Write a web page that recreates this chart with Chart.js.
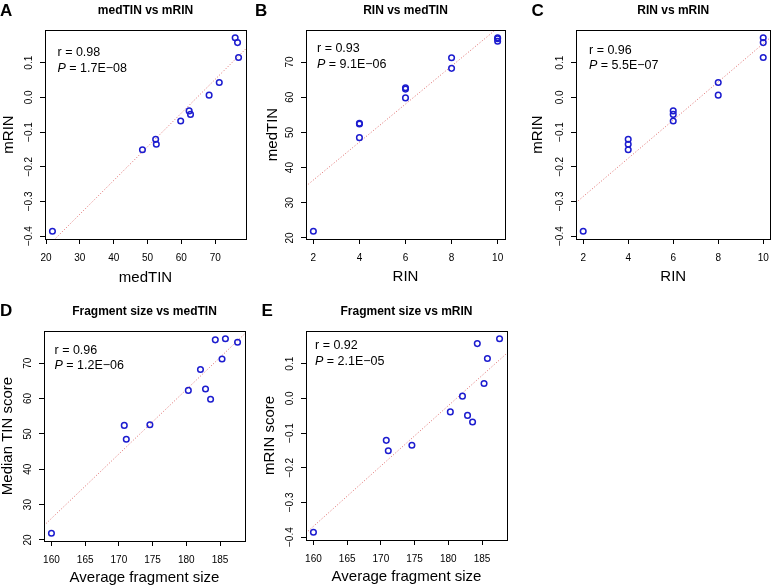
<!DOCTYPE html>
<html>
<head>
<meta charset="utf-8">
<script src="https://cdn.jsdelivr.net/npm/chart.js@4.4.1/dist/chart.umd.min.js"></script>
<style>
  body { margin: 0; background: #fff; width: 777px; height: 587px; position: relative; overflow: hidden; }
  canvas { position: absolute; }
</style>
</head>
<body>
<canvas id="pA"></canvas>
<canvas id="pB"></canvas>
<canvas id="pC"></canvas>
<canvas id="pD"></canvas>
<canvas id="pE"></canvas>
<script>
// per-sample values (12 samples)
const rin     = [2, 4, 4, 4, 6, 6, 6, 8, 8, 10, 10, 10];
const medTIN  = [21.9, 52.4, 52.6, 48.5, 62.3, 62.7, 59.8, 68.2, 71.2, 76.6, 76.9, 75.9];
const mRIN    = [-0.386, -0.121, -0.135, -0.151, -0.039, -0.049, -0.068, 0.0065, 0.043, 0.158, 0.115, 0.172];
const fragLen = [160.0, 170.8, 174.6, 171.1, 180.3, 182.85, 183.6, 182.1, 185.3, 184.3, 185.8, 187.6];

// tick labels
const tinTicks  = [20, 30, 40, 50, 60, 70];
const mrinTicks = [-0.4, -0.3, -0.2, -0.1, 0.0, 0.1];
const rinTicks  = [2, 4, 6, 8, 10];
const fragTicks = [160, 165, 170, 175, 180, 185];

// correlation labels
const rText = ["0.98", "0.93", "0.96", "0.96", "0.92"];
const pText = ["1.7E\u221208", "9.1E\u221206", "5.5E\u221207", "1.2E\u221206", "2.1E\u221205"];

Chart.defaults.font.family = '"Liberation Sans", Arial, Helvetica, sans-serif';
Chart.defaults.color = "#000";
const FAM = Chart.defaults.font.family;

// R's default axis range: data range stretched by 4% each side
function rRange(v) {
  const lo = Math.min(...v), hi = Math.max(...v), d = (hi - lo) * 0.04;
  return [lo - d, hi + d];
}
function lsq(xs, ys) {
  const n = xs.length;
  const mx = xs.reduce((a, b) => a + b) / n, my = ys.reduce((a, b) => a + b) / n;
  let sxy = 0, sxx = 0;
  xs.forEach((x, i) => { sxy += (x - mx) * (ys[i] - my); sxx += (x - mx) * (x - mx); });
  const b = sxy / sxx;
  return x => my + b * (x - mx);
}
const fmtNum = v => String(v);
const fmtMrin = v => v.toFixed(1).replace("-", "\u2212");

const meas = document.createElement("canvas").getContext("2d");
meas.font = "10px " + FAM;

const panels = [
  { id: "pA", letter: "A", title: "medTIN vs mRIN", xs: medTIN, ys: mRIN, xt: tinTicks, yt: mrinTicks,
    xf: fmtNum, yf: fmtMrin, xLab: "medTIN", yLab: "mRIN", k: 0,
    canvas: [0, 0, 254, 290], box: [45, 30, 246, 239], yTitleX: 8.5, xTitleY: 277.7, letterAt: [0, 15.5], note: [12.5, 23] },
  { id: "pB", letter: "B", title: "RIN vs medTIN", xs: rin, ys: medTIN, xt: rinTicks, yt: tinTicks,
    xf: fmtNum, yf: fmtNum, xLab: "RIN", yLab: "medTIN", k: 1,
    canvas: [254, 0, 262, 290], box: [306, 30, 505, 239], yTitleX: 273, xTitleY: 276.7, letterAt: [255, 15.5], note: [11, 19] },
  { id: "pC", letter: "C", title: "RIN vs mRIN", xs: rin, ys: mRIN, xt: rinTicks, yt: mrinTicks,
    xf: fmtNum, yf: fmtMrin, xLab: "RIN", yLab: "mRIN", k: 2,
    canvas: [516, 0, 261, 290], box: [576, 30, 776, 239], yTitleX: 538, xTitleY: 276.7, letterAt: [531.5, 15.5], note: [13, 20.5] },
  { id: "pD", letter: "D", title: "Fragment size vs medTIN", xs: fragLen, ys: medTIN, xt: fragTicks, yt: tinTicks,
    xf: fmtNum, yf: fmtNum, xLab: "Average fragment size", yLab: "Median TIN score", k: 3,
    canvas: [0, 290, 254, 297], box: [44, 331, 245, 541], yTitleX: 7.5, xTitleY: 578.3, letterAt: [0, 315.5], note: [10.5, 19.5] },
  { id: "pE", letter: "E", title: "Fragment size vs mRIN", xs: fragLen, ys: mRIN, xt: fragTicks, yt: mrinTicks,
    xf: fmtNum, yf: fmtMrin, xLab: "Average fragment size", yLab: "mRIN score", k: 4,
    canvas: [254, 290, 262, 297], box: [306, 331, 507, 540], yTitleX: 270, xTitleY: 577.3, letterAt: [261.5, 315.5], note: [9, 15] }
];

panels.forEach(p => {
  const [cx, cy, cw, ch] = p.canvas;
  const [bl, bt, br, bb] = p.box;
  const el = document.getElementById(p.id);
  el.width = cw; el.height = ch;
  el.style.left = cx + "px"; el.style.top = cy + "px";

  const xr = rRange(p.xs), yr = rRange(p.ys);
  const line = lsq(p.xs, p.ys);
  const yAxisW = bl - cx, xAxisH = cy + ch - bb;
  const widest = Math.max(...p.yt.map(v => meas.measureText(p.yf(v)).width));

  const decor = {
    id: "decor" + p.letter,
    afterDraw(chart) {
      const { ctx, chartArea: a } = chart;
      ctx.save();
      ctx.strokeStyle = "#000";
      ctx.lineWidth = 1;
      ctx.strokeRect(Math.round(a.left) + 0.5, Math.round(a.top) + 0.5,
        Math.round(a.right - a.left), Math.round(a.bottom - a.top));
      ctx.fillStyle = "#000";
      // panel letter
      ctx.font = "bold 17px " + FAM;
      ctx.textAlign = "left"; ctx.textBaseline = "alphabetic";
      ctx.fillText(p.letter, p.letterAt[0] - cx, p.letterAt[1] - cy);
      // title
      ctx.font = "bold 12px " + FAM;
      ctx.textAlign = "center"; ctx.textBaseline = "middle";
      ctx.fillText(p.title, (a.left + a.right) / 2, a.top - 19.5);
      // r and P
      ctx.textAlign = "left";
      const nx = a.left + p.note[0], ny = a.top + p.note[1];
      ctx.font = "12.5px " + FAM;
      ctx.fillText("r = " + rText[p.k], nx, ny);
      ctx.font = "italic 12.5px " + FAM;
      ctx.fillText("P", nx, ny + 15.5);
      const w = ctx.measureText("P").width;
      ctx.font = "12.5px " + FAM;
      ctx.fillText(" = " + pText[p.k], nx + w, ny + 15.5);
      ctx.restore();
    }
  };

  const tickGrid = { display: true, drawOnChartArea: false, drawTicks: true, tickLength: 5, color: "#000", lineWidth: 1 };

  new Chart(el, {
    type: "scatter",
    data: {
      datasets: [
        {
          data: p.xs.map((x, i) => ({ x: x, y: p.ys[i] })),
          pointRadius: 2.8,
          pointBorderWidth: 1.5,
          borderColor: "#1c1ccf",
          backgroundColor: "rgba(0,0,0,0)"
        },
        {
          type: "line",
          data: [{ x: xr[0], y: line(xr[0]) }, { x: xr[1], y: line(xr[1]) }],
          borderColor: "rgba(215,70,70,0.8)",
          borderWidth: 1,
          borderDash: [1, 2],
          pointRadius: 0,
          fill: false
        }
      ]
    },
    options: {
      responsive: false,
      animation: false,
      events: [],
      layout: { padding: { left: 0, top: bt - cy, right: cx + cw - br, bottom: 0 } },
      plugins: { legend: { display: false }, tooltip: { enabled: false } },
      scales: {
        x: {
          type: "linear", min: xr[0], max: xr[1],
          afterBuildTicks: s => { s.ticks = p.xt.map(v => ({ value: v })); },
          afterFit: s => { s.height = xAxisH; },
          grid: tickGrid,
          border: { display: false },
          ticks: { autoSkip: false, maxRotation: 0, padding: 8, font: { size: 10 }, callback: v => p.xf(v) },
          title: { display: true, text: p.xLab, font: { size: 15 },
            padding: { top: 0, bottom: xAxisH - 9 - (p.xTitleY - bb) } }
        },
        y: {
          type: "linear", min: yr[0], max: yr[1],
          afterBuildTicks: s => { s.ticks = p.yt.map(v => ({ value: v })); },
          afterFit: s => { s.width = yAxisW; },
          grid: tickGrid,
          border: { display: false },
          ticks: { autoSkip: false, minRotation: 90, maxRotation: 90, crossAlign: "center",
            padding: 11 - widest / 2, font: { size: 10 }, callback: v => p.yf(v) },
          title: { display: true, text: p.yLab, font: { size: 15 },
            padding: { top: p.yTitleX - cx - 9, bottom: 0 } }
        }
      }
    },
    plugins: [decor]
  });
});
</script>
</body>
</html>
